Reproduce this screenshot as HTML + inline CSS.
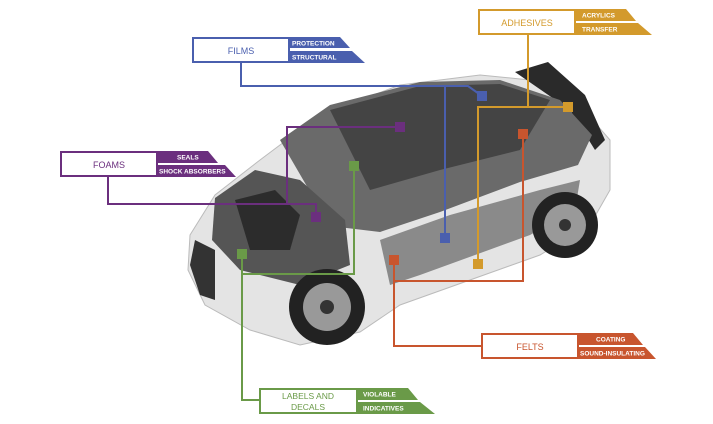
<!DOCTYPE html>
<html><head><meta charset="utf-8"><style>
html,body{margin:0;padding:0;background:#fff;}
svg{display:block;}
text{font-family:"Liberation Sans",Arial,sans-serif;}
</style></head><body>
<svg width="713" height="424" viewBox="0 0 713 424" xmlns="http://www.w3.org/2000/svg">
<!-- car approximation -->
<path d="M190,235 L215,195 L260,160 L320,115 L400,85 L480,75 L530,80 L575,100 L610,140 L610,190 L590,225 L540,255 L400,305 L360,332 L300,345 L250,330 L205,305 L188,270 Z" fill="#e4e4e4" stroke="#bbb"/>
<path d="M515,72 L548,62 L585,95 L605,140 L595,150 L570,110 Z" fill="#2a2a2a"/>
<path d="M280,140 L330,105 L420,82 L500,80 L560,100 L592,135 L578,165 L520,182 L440,212 L380,232 L330,226 Z" fill="#6a6a6a"/>
<path d="M330,110 L420,86 L500,84 L550,100 L520,150 L440,170 L370,190 Z" fill="#444"/>
<path d="M215,198 L255,170 L300,180 L345,220 L350,265 L300,285 L240,270 L212,240 Z" fill="#555"/>
<path d="M235,200 L275,190 L300,215 L290,250 L250,250 Z" fill="#2c2c2c"/>
<path d="M380,240 L450,215 L540,190 L580,180 L575,210 L530,235 L420,275 L390,285 Z" fill="#8a8a8a"/>
<path d="M195,240 L215,250 L215,300 L200,295 L190,265 Z" fill="#333"/>
<circle cx="327" cy="307" r="38" fill="#222"/>
<circle cx="327" cy="307" r="24" fill="#999"/>
<circle cx="327" cy="307" r="7" fill="#333"/>
<circle cx="565" cy="225" r="33" fill="#222"/>
<circle cx="565" cy="225" r="21" fill="#999"/>
<circle cx="565" cy="225" r="6" fill="#333"/>

<!-- connectors -->
<g fill="none" stroke-width="2">
<polyline stroke="#4a5fae" points="241,62 241,86 455,86 468,86 482,96"/>
<polyline stroke="#4a5fae" points="445,86 445,238"/>
<polyline stroke="#d39a2c" points="528,34 528,107"/>
<polyline stroke="#d39a2c" points="568,107 478,107 478,264"/>
<polyline stroke="#6b2f7e" points="108,176 108,204 316,204 316,217"/>
<polyline stroke="#6b2f7e" points="400,127 287,127 287,204"/>
<polyline stroke="#6a9a48" points="354,166 354,274 242,274"/>
<polyline stroke="#6a9a48" points="242,254 242,400 259,400"/>
<polyline stroke="#c8552e" points="523,134 523,281 394,281"/>
<polyline stroke="#c8552e" points="394,260 394,346 481,346"/>
</g>
<g>
<rect x="477" y="91" width="10" height="10" fill="#4a5fae"/>
<rect x="440" y="233" width="10" height="10" fill="#4a5fae"/>
<rect x="563" y="102" width="10" height="10" fill="#d39a2c"/>
<rect x="473" y="259" width="10" height="10" fill="#d39a2c"/>
<rect x="395" y="122" width="10" height="10" fill="#6b2f7e"/>
<rect x="311" y="212" width="10" height="10" fill="#6b2f7e"/>
<rect x="349" y="161" width="10" height="10" fill="#6a9a48"/>
<rect x="237" y="249" width="10" height="10" fill="#6a9a48"/>
<rect x="518" y="129" width="10" height="10" fill="#c8552e"/>
<rect x="389" y="255" width="10" height="10" fill="#c8552e"/>
</g>

<!-- FILMS -->
<rect x="193" y="38" width="96" height="24" fill="#fff" stroke="#4a5fae" stroke-width="2"/>
<text x="241" y="54" text-anchor="middle" font-size="9" fill="#4a5fae">FILMS</text>
<polygon points="289,37 340,37 350,48 289,48" fill="#4a5fae"/>
<polygon points="289,51 352,51 365,63 289,63" fill="#4a5fae"/>
<text x="292" y="45.5" font-size="6.5" font-weight="bold" fill="#fff">PROTECTION</text>
<text x="292" y="59.5" font-size="6.5" font-weight="bold" fill="#fff">STRUCTURAL</text>

<!-- ADHESIVES -->
<rect x="479" y="10" width="96" height="24" fill="#fff" stroke="#d39a2c" stroke-width="2"/>
<text x="527" y="26" text-anchor="middle" font-size="9" fill="#d39a2c">ADHESIVES</text>
<polygon points="575,9 626,9 636,21 575,21" fill="#d39a2c"/>
<polygon points="575,23 638,23 652,35 575,35" fill="#d39a2c"/>
<text x="582" y="17.5" font-size="6.5" font-weight="bold" fill="#fff">ACRYLICS</text>
<text x="582" y="31.5" font-size="6.5" font-weight="bold" fill="#fff">TRANSFER</text>

<!-- FOAMS -->
<rect x="61" y="152" width="96" height="24" fill="#fff" stroke="#6b2f7e" stroke-width="2"/>
<text x="109" y="168" text-anchor="middle" font-size="9" fill="#6b2f7e">FOAMS</text>
<polygon points="157,151 208,151 218,163 157,163" fill="#6b2f7e"/>
<polygon points="157,165 225,165 236,177 157,177" fill="#6b2f7e"/>
<text x="177" y="159.5" font-size="6.5" font-weight="bold" fill="#fff">SEALS</text>
<text x="159" y="173.5" font-size="6.5" font-weight="bold" fill="#fff">SHOCK ABSORBERS</text>

<!-- FELTS -->
<rect x="482" y="334" width="96" height="24" fill="#fff" stroke="#c8552e" stroke-width="2"/>
<text x="530" y="350" text-anchor="middle" font-size="9" fill="#c8552e">FELTS</text>
<polygon points="578,333 633,333 643,345 578,345" fill="#c8552e"/>
<polygon points="578,347 645,347 656,359 578,359" fill="#c8552e"/>
<text x="596" y="341.5" font-size="6.5" font-weight="bold" fill="#fff">COATING</text>
<text x="580" y="355.5" font-size="6.5" font-weight="bold" fill="#fff">SOUND-INSULATING</text>

<!-- LABELS AND DECALS -->
<rect x="260" y="389" width="97" height="24" fill="#fff" stroke="#6a9a48" stroke-width="2"/>
<text x="308" y="399" text-anchor="middle" font-size="8.5" fill="#6a9a48">LABELS AND</text>
<text x="308" y="410" text-anchor="middle" font-size="8.5" fill="#6a9a48">DECALS</text>
<polygon points="357,388 408,388 418,400 357,400" fill="#6a9a48"/>
<polygon points="357,402 420,402 435,414 357,414" fill="#6a9a48"/>
<text x="363" y="396.5" font-size="6.5" font-weight="bold" fill="#fff">VIOLABLE</text>
<text x="363" y="410.5" font-size="6.5" font-weight="bold" fill="#fff">INDICATIVES</text>
</svg>
</body></html>
